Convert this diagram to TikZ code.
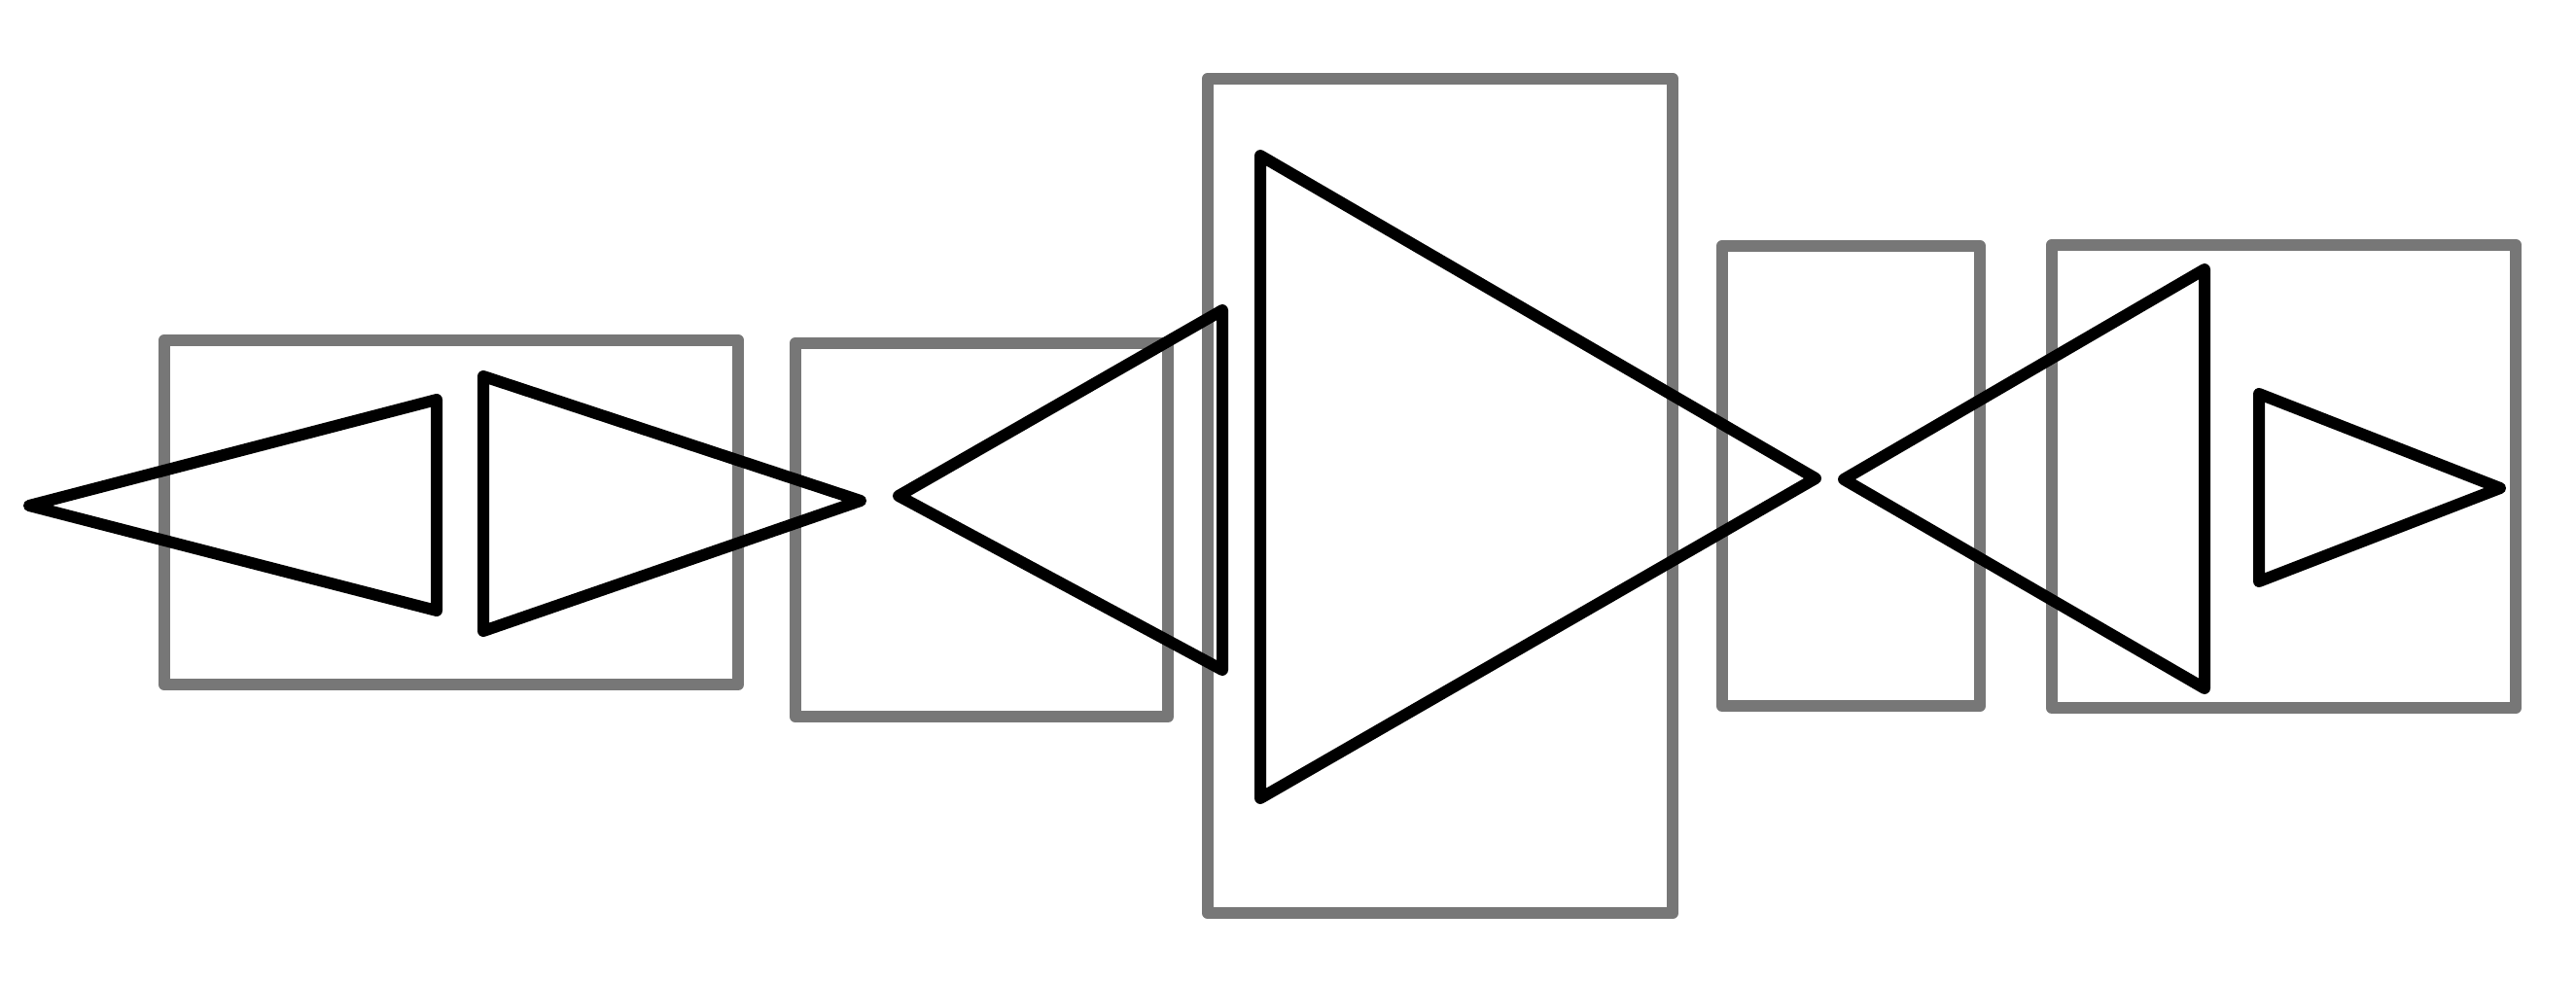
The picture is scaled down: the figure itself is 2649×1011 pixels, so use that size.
\documentclass[tikz,border=0pt]{standalone}
\begin{document}
\begin{tikzpicture}[x=0.3pt,y=-0.3pt,
  boxline/.style={draw=boxgray,line width=3.7pt,line join=round,line cap=round},
  triline/.style={draw=black,line width=3.6pt,line join=round,line cap=round}]
\definecolor{boxgray}{HTML}{777777}
\fill[white] (0,0) rectangle (2649,1011);
\useasboundingbox (0,0) rectangle (2649,1011);
% gray boxes
\draw[boxline] (169,350) rectangle (759,704);
\draw[boxline] (818,353) rectangle (1201,737);
\draw[boxline] (1242,81) rectangle (1720,939);
\draw[boxline] (1771,253) rectangle (2036,726);
\draw[boxline] (2110,252) rectangle (2587,728);
% black triangles
\draw[triline] (30,520) -- (449,411) -- (449,628) -- cycle;
\draw[triline] (497,387) -- (885,515) -- (497,649) -- cycle;
\draw[triline] (924,510) -- (1257,319) -- (1257,689) -- cycle;
\draw[triline] (1296,160) -- (1867,492) -- (1296,821) -- cycle;
\draw[triline] (1896,493) -- (2267,277) -- (2267,708) -- cycle;
\draw[triline] (2323,405) -- (2571,502) -- (2323,598) -- cycle;
\end{tikzpicture}
\end{document}
